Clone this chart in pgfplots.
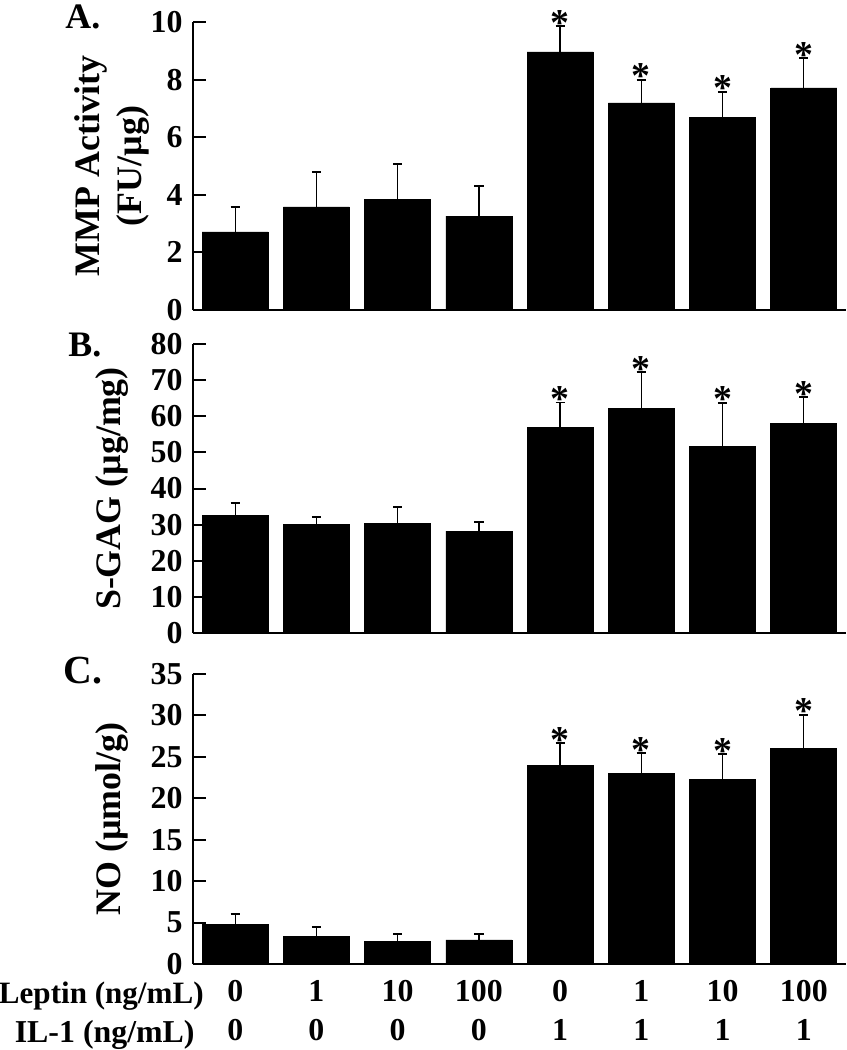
\documentclass[border=0pt]{standalone}
\usepackage{fontspec}
\setmainfont{Liberation Serif}
\usepackage{pgfplots}
\pgfplotsset{compat=1.18}
\usepackage{pgfplotstable}

\pgfplotstableread{
x y e
0 2.71 0.87
1 3.58 1.21
2 3.85 1.22
3 3.26 1.05
4 8.96 0.90
5 7.19 0.80
6 6.70 0.87
7 7.71 1.04
}\dataA
\pgfplotstableread{
x y e
0 32.5 3.6
1 30.1 2.0
2 30.4 4.5
3 28.2 2.5
4 57.0 6.8
5 62.1 10.1
6 51.6 12.1
7 58.0 7.3
}\dataB
\pgfplotstableread{
x y e
0 4.78 1.25
1 3.38 1.04
2 2.77 0.89
3 2.90 0.76
4 23.93 2.74
5 23.05 2.41
6 22.24 3.10
7 26.02 4.07
}\dataC

\pgfplotsset{
  panel/.style={
    scale only axis, width=326.5bp,
    xmin=-0.52, xmax=7.52, ymin=0,
    axis lines=left, axis line style={-, line width=1bp},
    tick align=inside, major tick length=6.5bp,
    ytick style={line width=1bp, black},
    xtick=\empty,
    /pgf/number format/assume math mode=true,
    yticklabel style={font=\fontsize{16}{16}\selectfont\bfseries, inner sep=0pt, xshift=-5bp},
    every axis y label/.style={at={(axis description cs:-0.124,0.5)}, rotate=90, anchor=center, align=center, font=\fontsize{18}{21.5}\selectfont\bfseries},
    clip=false,
  },
  bars/.style={ybar, bar width=33bp, fill=black, draw=black,
    error bars/.cd, y dir=plus, y explicit,
    error bar style={line width=0.7bp, black},
    error mark options={rotate=90, line width=0.9bp, mark size=2.3bp, black}},
  stars/.style={draw=none, mark=none, nodes near coords={*},
    every node near coord/.style={anchor=base, inner sep=0pt, yshift=-4.5bp, font=\fontsize{19}{19}\selectfont\bfseries}},
}

\begin{document}
\begin{tikzpicture}
\useasboundingbox (0,0) rectangle (423.5bp,-525bp);
% Panel A
\begin{axis}[panel, at={(96.5bp,-155bp)}, anchor=south west, height=144bp,
  ymax=10, ytick={0,2,...,10}, ylabel={MMP Activity\\(FU/µg)}]
\addplot[bars] table[x=x, y=y, y error=e]{\dataA};
\addplot[stars] coordinates {(4,9.86) (5,7.99) (6,7.57) (7,8.75)};
\end{axis}
% Panel B
\begin{axis}[panel, at={(96.5bp,-316.5bp)}, anchor=south west, height=144.5bp,
  ymax=80, ytick={0,10,...,80}, ylabel={S-GAG (µg/mg)}]
\addplot[bars] table[x=x, y=y, y error=e]{\dataB};
\addplot[stars] coordinates {(4,63.8) (5,72.2) (6,63.7) (7,65.3)};
\end{axis}
% Panel C
\begin{axis}[panel, at={(96.5bp,-482bp)}, anchor=south west, height=145bp,
  ymax=35, ytick={0,5,...,35}, ylabel={NO (µmol/g)},
  xtick={0,...,7},
  xticklabels={{0\\0},{1\\0},{10\\0},{100\\0},{0\\1},{1\\1},{10\\1},{100\\1}},
  xtick style={draw=none},
  xticklabel style={align=center, font=\fontsize{16}{19.5}\selectfont\bfseries, inner sep=0pt, yshift=-8bp}]
\addplot[bars] table[x=x, y=y, y error=e]{\dataC};
\addplot[stars] coordinates {(4,26.67) (5,25.46) (6,25.34) (7,30.09)};
\end{axis}
\node[anchor=base west, inner sep=0pt, font=\fontsize{18}{18}\selectfont\bfseries] at (32.5bp,-14bp) {A.};
\node[anchor=base west, inner sep=0pt, font=\fontsize{18}{18}\selectfont\bfseries] at (34bp,-178bp) {B.};
\node[anchor=base west, inner sep=0pt, font=\fontsize{20}{20}\selectfont\bfseries] at (31.5bp,-341.5bp) {C.};
\node[anchor=base east, font=\fontsize{15.6}{16}\selectfont\bfseries, inner sep=0pt] at (102bp,-501.5bp) {Leptin (ng/mL)};
\node[anchor=base east, font=\fontsize{16}{16}\selectfont\bfseries, inner sep=0pt] at (97.5bp,-521bp) {IL-1 (ng/mL)};
\end{tikzpicture}
\end{document}
